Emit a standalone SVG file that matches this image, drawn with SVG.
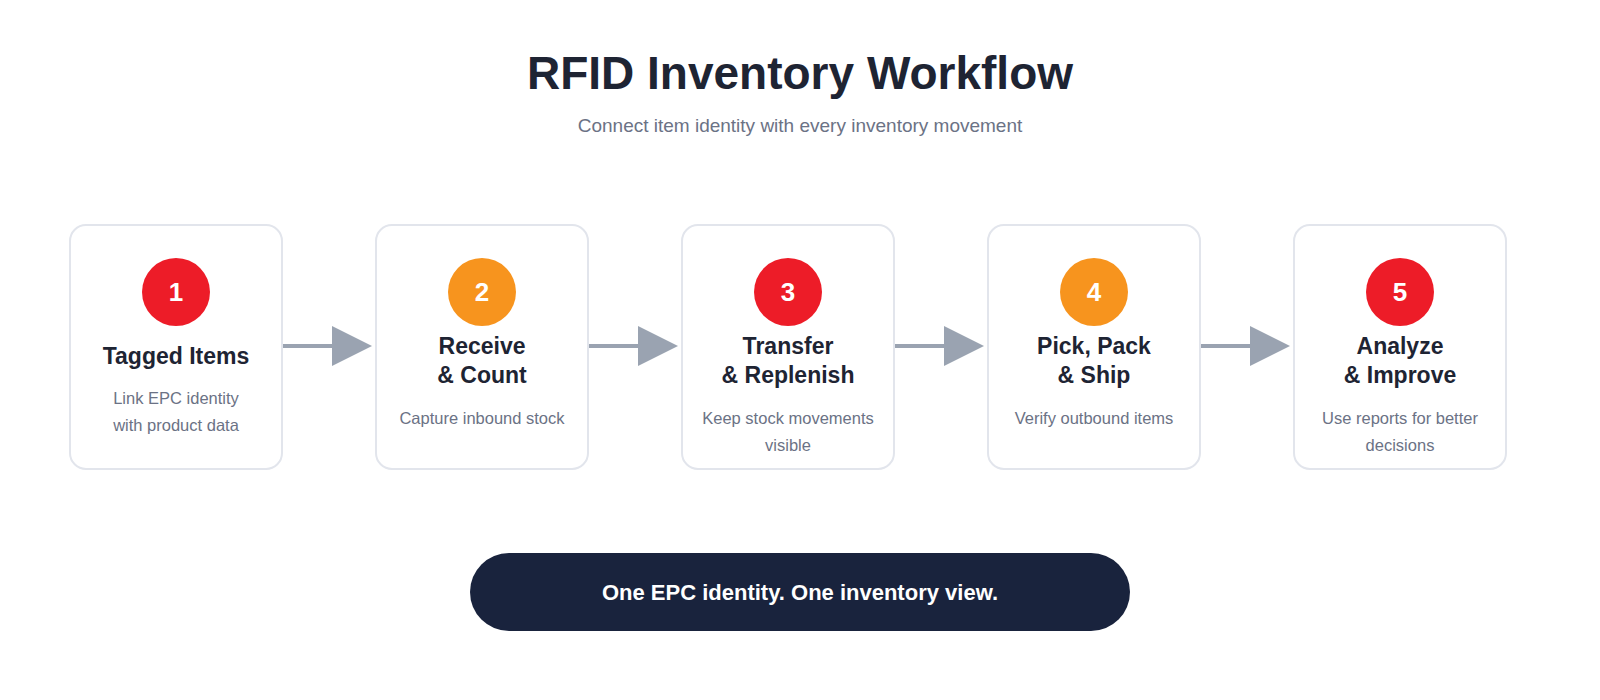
<svg xmlns="http://www.w3.org/2000/svg" width="1600" height="700" viewBox="0 0 1600 700">
<style>
text{font-family:"Liberation Sans",Arial,sans-serif;text-anchor:middle}
.box{fill:#fff;stroke:#e2e5ec;stroke-width:2}
.num{fill:#fff;font-weight:bold;font-size:26px}
.t{fill:#1e2433;font-weight:bold;font-size:23px}
.d{fill:#6b7285;font-size:16.5px}
.red{fill:#ed1c28}.org{fill:#f7941e}
.ln{stroke:#9aa3b1;stroke-width:4}
.ah{fill:#9aa3b1}
</style>
<rect width="1600" height="700" fill="#fff"/>
<text x="800" y="89" font-size="46" font-weight="bold" fill="#1e2433">RFID Inventory Workflow</text>
<text x="800" y="132" font-size="19" fill="#6b7285">Connect item identity with every inventory movement</text>
<g id="connectors">
<line class="ln" x1="283" y1="346" x2="334" y2="346"/><polygon class="ah" points="332,326 372,346 332,366"/>
<line class="ln" x1="589" y1="346" x2="640" y2="346"/><polygon class="ah" points="638,326 678,346 638,366"/>
<line class="ln" x1="895" y1="346" x2="946" y2="346"/><polygon class="ah" points="944,326 984,346 944,366"/>
<line class="ln" x1="1201" y1="346" x2="1252" y2="346"/><polygon class="ah" points="1250,326 1290,346 1250,366"/>
</g>
<g id="node1"><rect class="box" x="70" y="225" width="212" height="244" rx="16"/><circle class="red" cx="176" cy="292" r="34"/><text class="num" x="176" y="301">1</text><text class="t" x="176" y="364">Tagged Items</text><text class="d" x="176" y="404">Link EPC identity</text><text class="d" x="176" y="431">with product data</text></g>
<g id="node2"><rect class="box" x="376" y="225" width="212" height="244" rx="16"/><circle class="org" cx="482" cy="292" r="34"/><text class="num" x="482" y="301">2</text><text class="t" x="482" y="354">Receive</text><text class="t" x="482" y="383">&amp; Count</text><text class="d" x="482" y="424">Capture inbound stock</text></g>
<g id="node3"><rect class="box" x="682" y="225" width="212" height="244" rx="16"/><circle class="red" cx="788" cy="292" r="34"/><text class="num" x="788" y="301">3</text><text class="t" x="788" y="354">Transfer</text><text class="t" x="788" y="383">&amp; Replenish</text><text class="d" x="788" y="424">Keep stock movements</text><text class="d" x="788" y="451">visible</text></g>
<g id="node4"><rect class="box" x="988" y="225" width="212" height="244" rx="16"/><circle class="org" cx="1094" cy="292" r="34"/><text class="num" x="1094" y="301">4</text><text class="t" x="1094" y="354">Pick, Pack</text><text class="t" x="1094" y="383">&amp; Ship</text><text class="d" x="1094" y="424">Verify outbound items</text></g>
<g id="node5"><rect class="box" x="1294" y="225" width="212" height="244" rx="16"/><circle class="red" cx="1400" cy="292" r="34"/><text class="num" x="1400" y="301">5</text><text class="t" x="1400" y="354">Analyze</text><text class="t" x="1400" y="383">&amp; Improve</text><text class="d" x="1400" y="424">Use reports for better</text><text class="d" x="1400" y="451">decisions</text></g>
<g id="banner"><rect x="470" y="553" width="660" height="78" rx="39" fill="#19233d"/><text x="800" y="600" font-size="22" font-weight="bold" fill="#fff">One EPC identity. One inventory view.</text></g>
</svg>
